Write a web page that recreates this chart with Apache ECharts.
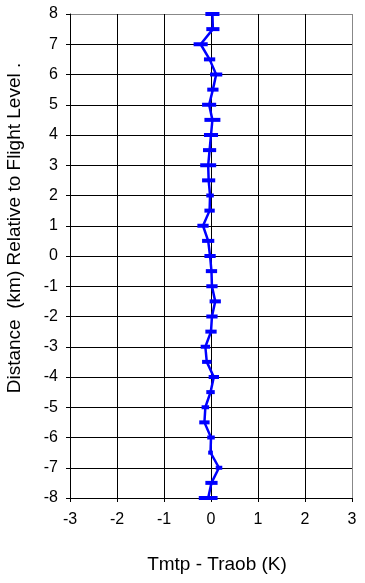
<!DOCTYPE html>
<html>
<head>
<meta charset="utf-8">
<script src="https://cdn.jsdelivr.net/npm/echarts@6/dist/echarts.min.js"></script>
<style>
html,body{margin:0;padding:0;background:#fff;}
#c{width:365px;height:583px;}
</style>
</head>
<body>
<div id="c"></div>
<script>
// Distance relative to flight level (km)
var distances = [8, 7.5, 7, 6.5, 6, 5.5, 5, 4.5, 4, 3.5, 3, 2.5, 2, 1.5, 1, 0.5, 0,
  -0.5, -1, -1.5, -2, -2.5, -3, -3.5, -4, -4.5, -5, -5.5, -6, -6.5, -7, -7.5, -8];
// Tmtp - Traob (K)
var diffs = [0.03, 0.04, -0.22, -0.03, 0.11, 0.04, -0.04, 0.03, 0.0, -0.03, -0.06, -0.05, -0.02, -0.03, -0.17, -0.06, -0.02,
  0.01, 0.02, 0.09, 0.02, 0.0, -0.12, -0.09, 0.06, -0.01, -0.12, -0.14, 0.0, -0.01, 0.17, 0.01, -0.06];
// error bar half-widths (K)
var errors = [0.15, 0.14, 0.15, 0.12, 0.13, 0.12, 0.15, 0.17, 0.15, 0.14, 0.17, 0.14, 0.08, 0.11, 0.12, 0.13, 0.12,
  0.12, 0.12, 0.12, 0.12, 0.12, 0.10, 0.10, 0.11, 0.09, 0.08, 0.11, 0.08, 0.05, 0.07, 0.13, 0.2];
var xTicks = [-3, -2, -1, 0, 1, 2, 3];
var yTicks = [-8, -7, -6, -5, -4, -3, -2, -1, 0, 1, 2, 3, 4, 5, 6, 7, 8];
var xTitle = 'Tmtp - Traob (K)';
var yTitle = 'Distance  (km) Relative to Flight Level .';

var lineData = diffs.map(function (d, i) { return [d, distances[i]]; });
var errData = diffs.map(function (d, i) { return [d, distances[i], errors[i]]; });

var xSplitColors = xTicks.map(function (t, i) { return i === xTicks.length - 1 ? '#888888' : '#000000'; });
var ySplitColors = yTicks.map(function (t, i) { return i === yTicks.length - 1 ? '#888888' : '#000000'; });

var font = 'Arial, "Liberation Sans", sans-serif';
var chart = echarts.init(document.getElementById('c'), null, {renderer: 'canvas'});
chart.setOption({
  animation: false,
  backgroundColor: '#ffffff',
  grid: {left: 70, right: 13, top: 14, bottom: 85, containLabel: false},
  xAxis: {
    type: 'value', min: xTicks[0], max: xTicks[xTicks.length - 1], interval: 1,
    axisLine: {show: true, onZero: false, lineStyle: {color: '#000', width: 1}},
    axisTick: {show: true, inside: false, length: 4, lineStyle: {color: '#000'}},
    axisLabel: {color: '#000', fontSize: 16, fontFamily: font, margin: 14},
    splitLine: {show: true, lineStyle: {color: xSplitColors, width: 1}}
  },
  yAxis: {
    type: 'value', min: yTicks[0], max: yTicks[yTicks.length - 1], interval: 1,
    axisLine: {show: true, onZero: false, lineStyle: {color: '#000', width: 1}},
    axisTick: {show: true, inside: false, length: 4, lineStyle: {color: '#000'}},
    axisLabel: {color: '#000', fontSize: 16, fontFamily: font, margin: 12},
    splitLine: {show: true, lineStyle: {color: ySplitColors, width: 1}}
  },
  graphic: [
    {type: 'text', x: 217, y: 565,
     style: {text: xTitle, fill: '#000', font: '19px ' + font, align: 'center', verticalAlign: 'middle'}},
    {type: 'text', x: 5, y: 228, rotation: Math.PI / 2, originX: 0, originY: 0,
     style: {text: yTitle, fill: '#000', font: '19px ' + font, align: 'center', verticalAlign: 'top'}}
  ],
  series: [
    {
      type: 'line', data: lineData, symbol: 'none', z: 3,
      lineStyle: {color: '#0000FF', width: 2.5}
    },
    {
      type: 'custom', data: errData, z: 4,
      encode: {x: 0, y: 1},
      renderItem: function (params, api) {
        var x = api.value(0), y = api.value(1), e = api.value(2);
        var p1 = api.coord([x - e, y]);
        var p2 = api.coord([x + e, y]);
        return {type: 'line', shape: {x1: p1[0], y1: p1[1], x2: p2[0], y2: p2[1]},
                style: {stroke: '#0000FF', lineWidth: 4}};
      }
    }
  ]
});
</script>
</body>
</html>
